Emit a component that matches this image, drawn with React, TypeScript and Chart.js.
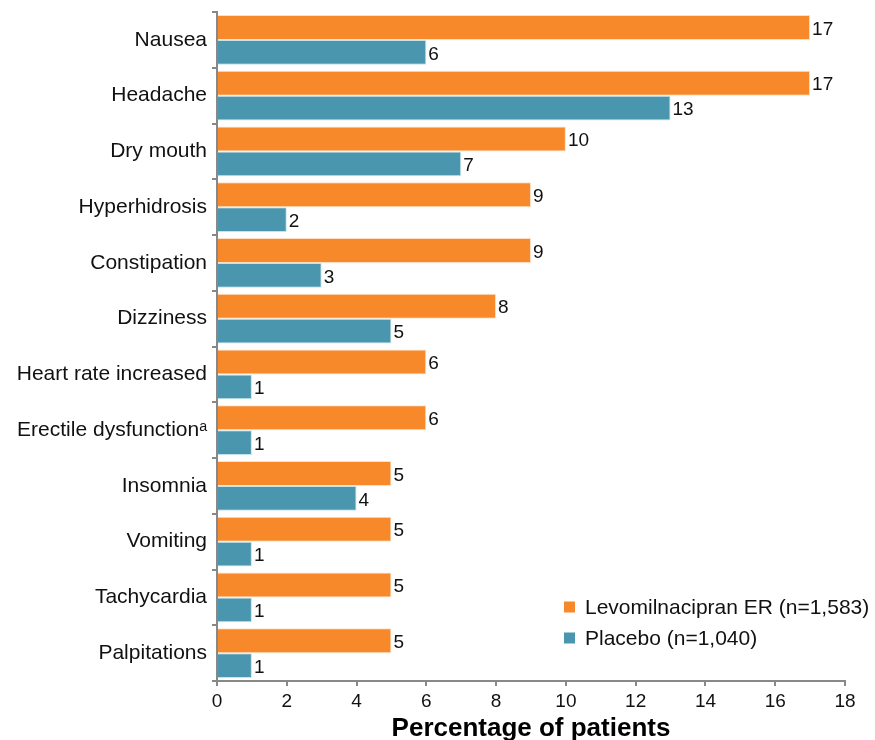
import React, { useEffect, useRef } from "react";
import { Chart, registerables } from "chart.js";

Chart.register(...registerables);

const categories = [
  "Nausea",
  "Headache",
  "Dry mouth",
  "Hyperhidrosis",
  "Constipation",
  "Dizziness",
  "Heart rate increased",
  "Erectile dysfunctionᵃ",
  "Insomnia",
  "Vomiting",
  "Tachycardia",
  "Palpitations",
];
const levomilnacipran = [17, 17, 10, 9, 9, 8, 6, 6, 5, 5, 5, 5];
const placebo = [6, 13, 7, 2, 3, 5, 1, 1, 4, 1, 1, 1];
const seriesLabels = ["Levomilnacipran ER (n=1,583)", "Placebo (n=1,040)"];
const xTitle = "Percentage of patients";

const ORANGE = "#F7892A";
const TEAL = "#4A96AE";
const FONT = "'Liberation Sans', Arial, sans-serif";

const valueLabels = {
  id: "valueLabels",
  afterDatasetsDraw(chart: any) {
    const ctx = chart.ctx;
    ctx.save();
    ctx.font = `19px ${FONT}`;
    ctx.fillStyle = "#111";
    ctx.textAlign = "left";
    ctx.textBaseline = "middle";
    chart.data.datasets.forEach((ds: any, di: number) => {
      const meta = chart.getDatasetMeta(di);
      meta.data.forEach((bar: any, i: number) => {
        ctx.fillText(String(ds.data[i]), bar.x + 2, bar.y + 2);
      });
    });
    ctx.restore();
  },
};

const customLegend = {
  id: "customLegend",
  afterDraw(chart: any) {
    const ctx = chart.ctx;
    ctx.save();
    ctx.font = `21px ${FONT}`;
    ctx.textAlign = "left";
    ctx.textBaseline = "middle";
    const x0 = 564;
    const rows = [607, 638];
    chart.data.datasets.forEach((ds: any, i: number) => {
      const y = rows[i];
      ctx.fillStyle = ds.backgroundColor;
      ctx.fillRect(x0, y - 5.5, 11, 11);
      ctx.fillStyle = "#111";
      ctx.fillText(ds.label, x0 + 21, y + 1);
    });
    ctx.restore();
  },
};

export default function App() {
  const ref = useRef<HTMLCanvasElement>(null);
  useEffect(() => {
    if (!ref.current) return;
    const chart = new Chart(ref.current, {
      type: "bar",
      data: {
        labels: categories,
        datasets: [
          {
            label: seriesLabels[0],
            data: levomilnacipran,
            backgroundColor: ORANGE,
            borderColor: "rgba(255,220,190,0.9)",
            borderWidth: 1,
            categoryPercentage: 0.89,
            barPercentage: 1.0,
          },
          {
            label: seriesLabels[1],
            data: placebo,
            backgroundColor: TEAL,
            borderColor: "rgba(190,225,235,0.9)",
            borderWidth: 1,
            categoryPercentage: 0.89,
            barPercentage: 1.0,
          },
        ],
      },
      options: {
        indexAxis: "y",
        animation: false,
        responsive: false,
        maintainAspectRatio: false,
        layout: { padding: { top: 12, right: 30, left: 0, bottom: 0 } },
        plugins: {
          legend: { display: false },
          tooltip: { enabled: false },
        },
        scales: {
          x: {
            min: 0,
            max: 18,
            ticks: {
              stepSize: 2,
              color: "#111",
              font: { size: 19, family: FONT },
              padding: 4,
            },
            grid: {
              drawOnChartArea: false,
              drawTicks: true,
              tickLength: 5,
              color: "#888",
              lineWidth: 2,
            },
            border: { display: true, color: "#888", width: 2 },
            title: {
              display: true,
              text: xTitle,
              color: "#000",
              font: { size: 26, weight: "bold", family: FONT },
              padding: { top: 2, bottom: -4 },
            },
            afterFit(scale: any) {
              scale.height = 59;
            },
          },
          y: {
            ticks: {
              color: "#111",
              font: { size: 21, family: FONT },
              padding: 5,
            },
            grid: {
              offset: true,
              drawOnChartArea: false,
              drawTicks: true,
              tickLength: 5,
              color: "#888",
              lineWidth: 2,
            },
            border: { display: true, color: "#888", width: 2 },
            afterFit(scale: any) {
              scale.width = 217;
              scale.paddingTop = 0;
              scale.paddingBottom = 0;
            },
          },
        },
      },
      plugins: [valueLabels, customLegend],
    });
    return () => chart.destroy();
  }, []);
  return (
    <div style={{ position: "fixed", left: 0, top: 0, width: 875, height: 740, background: "#fff" }}>
      <canvas ref={ref} width={875} height={740} style={{ width: 875, height: 740 }} />
    </div>
  );
}
